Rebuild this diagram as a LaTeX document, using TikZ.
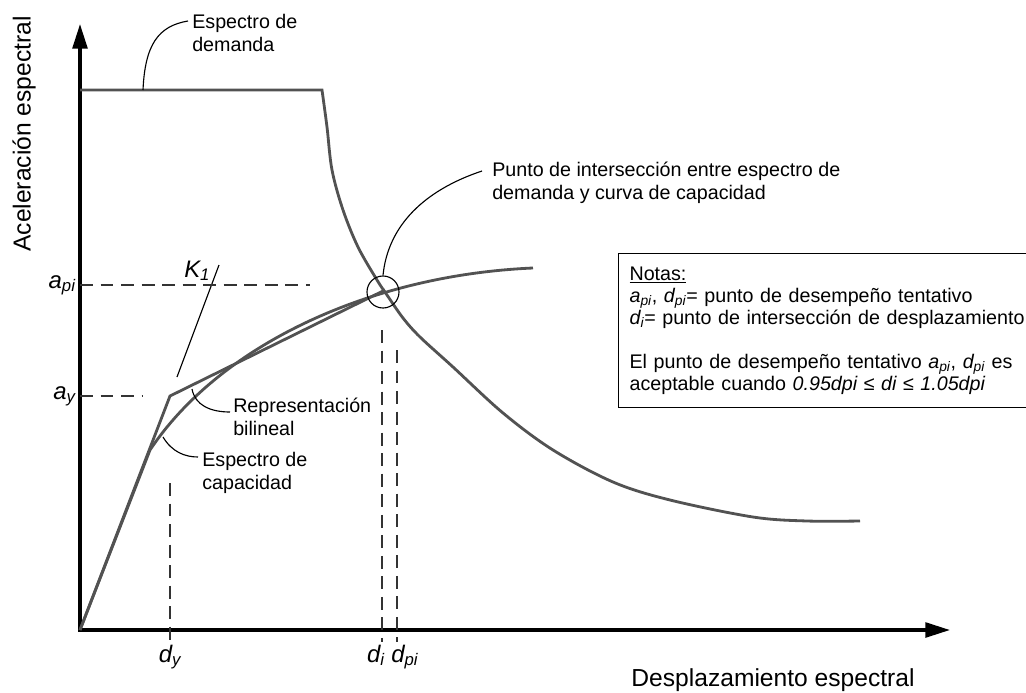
\documentclass[tikz,border=0pt]{standalone}
\usepackage{fontspec}
\setmainfont{Liberation Sans}
\usetikzlibrary{arrows.meta,calc}

% etiqueta con subindice
\newcommand{\lbl}[2]{{\itshape #1\textsubscript{\itshape #2}}}

\begin{document}
\begin{tikzpicture}[x=0.025cm, y=-0.025cm,
  axis/.style={line width=2.3pt, -{Triangle[length=17.5pt,width=10.5pt]}},
  curve/.style={line width=2pt, draw=black!68},
  guide/.style={line width=0.9pt, dash pattern=on 9.2pt off 5.4pt, draw=black!80},
  leader/.style={line width=0.8pt},
  txt/.style={font=\fontsize{14}{16.5}\selectfont, align=left, inner sep=0pt},
  tick/.style={font=\fontsize{17}{17}\selectfont, inner sep=0pt},
  title/.style={font=\fontsize{17.5}{20}\selectfont, inner sep=0pt}]
\useasboundingbox (0,0) rectangle (1026,692);

% ejes
\draw[axis] (80,631.6) -- (80,24);
\draw[axis] (78.4,630) -- (950,630);
\node[title, rotate=90] (ytitle) at (24,134) {Aceleración espectral};
\node[title] (xtitle) at (773,680) {Desplazamiento espectral};

% espectro de demanda
\draw[curve, line join=miter] (80,90) -- plot[smooth, tension=0.55] coordinates {
  (322,90) (327,127) (332,170) (343,210) (358,247) (377,280) (387,295) (403,318)
  (420,337) (453,367) (503,413) (553,450) (613,482) (670,500) (753,517) (807,521) (860,521)};

% espectro de capacidad y representacion bilineal
\draw[curve] (80,630) -- (150,450) .. controls (220,345) and (370,275) .. (533,268);
\draw[curve] (80,630) -- (170,396) -- (385,290);
\draw[leader] (219,265) -- (177,377);

% lineas auxiliares
\draw[guide] (80,285) -- (310,285);
\draw[guide] (80,396) -- (142,396);
\draw[guide] (170,483) -- (170,642);
\draw[guide] (382,330) -- (382,642);
\draw[guide] (397,350) -- (397,642);

\node[tick, anchor=base east] (api) at (76,288) {\lbl{a}{pi}};
\node[tick, anchor=base east] (ay) at (76,399) {\lbl{a}{y}};
\node[tick, anchor=base] (dy) at (170,662) {\lbl{d}{y}};
\node[tick, anchor=base east] (di) at (385,662) {\lbl{d}{i}};
\node[tick, anchor=base west] (dpi) at (391,662) {\lbl{d}{pi}};
\node[tick, anchor=base west] (k1) at (184,277) {\lbl{K}{1}};

% punto de interseccion
\node[draw, circle, line width=0.8pt, minimum size=0.8cm] (pint) at (383,292) {};

% etiquetas
\node[txt, anchor=west] (demlbl) at (192,33) {Espectro de\\demanda};
\node[txt, anchor=west] (ptolbl) at (492,183) {Punto de intersección entre espectro de\\demanda y curva de capacidad};
\node[txt, anchor=west] (bilbl) at (233,417) {Representación\\bilineal};
\node[txt, anchor=west] (caplbl) at (202,473) {Espectro de\\capacidad};

\coordinate (dmd) at (143,90);
\coordinate (bil) at (192,389);
\coordinate (cap) at (163,437);
\draw[leader] (dmd) .. controls (145,45) and (158,26) .. ($(demlbl.west)+(-4,-12)$);
\draw[leader] (pint.north) .. controls (388,225) and (425,190) .. ($(ptolbl.west)+(-10,-12)$);
\draw[leader] (bil) .. controls (195,405) and (210,412) .. ($(bilbl.west)+(-3,-5)$);
\draw[leader] (cap) .. controls (172,452) and (185,457) .. ($(caplbl.west)+(-4,-16)$);

% notas
\node[draw, line width=0.8pt, txt, anchor=north west, inner xsep=0.275cm,
  text width=10cm, minimum height=3.85cm, font=\fontsize{14}{15.6}\selectfont] (notas) at (618,253) {%
\underline{Notas:}\\
\lbl{a}{pi}, \lbl{d}{pi}= punto de desempeño tentativo\\
\lbl{d}{i}= punto de intersección de desplazamiento\\[15.6pt]
El punto de desempeño tentativo \lbl{a}{pi}, \lbl{d}{pi} es\\
aceptable cuando \textit{0.95dpi ≤ di ≤ 1.05dpi}};
\end{tikzpicture}
\end{document}
